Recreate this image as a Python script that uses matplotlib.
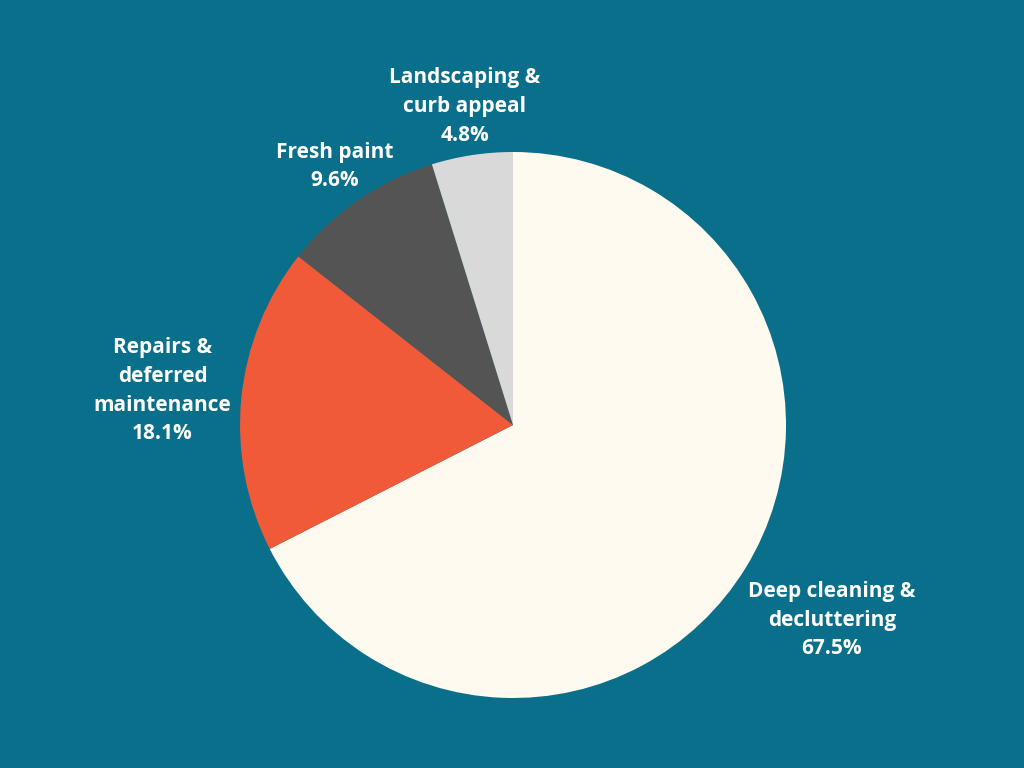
import matplotlib
matplotlib.use("Agg")
import matplotlib.pyplot as plt
import numpy as np

labels = ["Deep cleaning &\ndecluttering", "Repairs &\ndeferred\nmaintenance", "Fresh paint", "Landscaping &\ncurb appeal"]
values = [67.5, 18.1, 9.6, 4.8]
colors = ["#FFFAF0", "#F05A38", "#545454", "#D9D9D9"]
label_r = [1.37, 1.29, 1.15, 1.18]

bg = "#0A6F8A"
fig = plt.figure(figsize=(10.24, 7.68), dpi=100, facecolor=bg)
ax = fig.add_axes([0, 0, 1, 1])
ax.set_facecolor(bg)
R = 273.0
cx, cy = 513.0, 425.0

wedges, _ = ax.pie(values, colors=colors, startangle=90, counterclock=False,
                   radius=1.0, wedgeprops=dict(linewidth=0))
ax.set_xlim(-cx / R, (1024 - cx) / R)
ax.set_ylim(-(768 - cy) / R, cy / R)
ax.set_aspect("equal")
ax.axis("off")

for w, lab, v, r in zip(wedges, labels, values, label_r):
    ang = np.deg2rad((w.theta1 + w.theta2) / 2)
    ax.text(r * np.cos(ang), r * np.sin(ang), f"{lab}\n{v}%", ha="center", va="center",
            color="white", fontsize=15, fontweight="bold", family="Open Sans",
            linespacing=1.47)

fig.savefig("out.png", dpi=100, facecolor=bg)
